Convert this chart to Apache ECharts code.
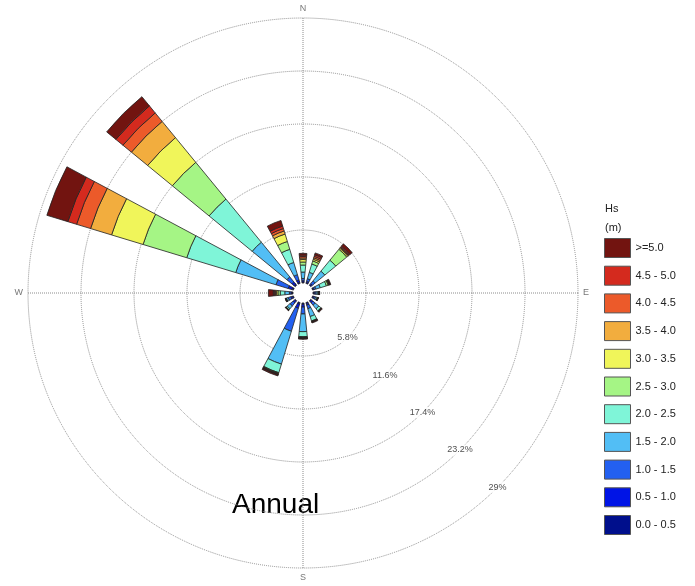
<!DOCTYPE html>
<html>
<head>
<meta charset="utf-8">
<script src="https://cdn.jsdelivr.net/npm/echarts@6/dist/echarts.min.js"></script>
<style>
  html, body { margin: 0; padding: 0; background: #fff; }
  #chart { width: 695px; height: 586px; }
</style>
</head>
<body>
<div id="chart"></div>
<script>
// directions, clockwise from north
const directions = ['N', 'NNE', 'NE', 'ENE', 'E', 'ESE', 'SE', 'SSE', 'S', 'SSW', 'SW', 'WSW', 'W', 'WNW', 'NW', 'NNW'];

// percentage of time per Hs bin (m)
const hs00_05 = [0.10, 0.10, 0.10, 0.08, 0.08, 0.08, 0.10, 0.10, 0.15, 0.20, 0.10, 0.10, 0.10, 0.20, 0.20, 0.15];
const hs05_10 = [0.15, 0.15, 0.15, 0.10, 0.12, 0.12, 0.20, 0.20, 0.30, 0.45, 0.20, 0.20, 0.12, 0.40, 0.30, 0.25];
const hs10_15 = [0.25, 0.30, 0.40, 0.20, 0.15, 0.15, 0.35, 0.40, 0.75, 2.63, 0.45, 0.30, 0.18, 1.40, 0.70, 0.60];
const hs15_20 = [0.70, 0.72, 1.35, 0.50, 0.18, 0.15, 0.50, 0.90, 1.94, 3.76, 0.40, 0.20, 0.50, 4.60, 4.90, 1.40];
const hs20_25 = [0.77, 0.95, 1.55, 0.70, 0.10, 0.08, 0.30, 0.50, 0.55, 0.98, 0.15, 0.05, 0.50, 5.60, 6.10, 1.50];
const hs25_30 = [0.33, 0.35, 1.55, 0.20, 0.03, 0.02, 0.04, 0.05, 0.06, 0.06, 0.02, 0.02, 0.25, 5.00, 5.20, 0.90];
const hs30_35 = [0.27, 0.19, 0.15, 0.08, 0.01, 0.01, 0.02, 0.03, 0.05, 0.06, 0.01, 0.01, 0.15, 3.60, 3.50, 0.85];
const hs35_40 = [0.17, 0.17, 0.10, 0.04, 0.01, 0.01, 0.01, 0.02, 0.03, 0.04, 0.01, 0.01, 0.12, 2.40, 2.30, 0.35];
const hs40_45 = [0.16, 0.17, 0.10, 0.04, 0.01, 0.01, 0.01, 0.02, 0.03, 0.04, 0.01, 0.01, 0.12, 1.60, 1.20, 0.28];
const hs45_50 = [0.16, 0.18, 0.10, 0.04, 0.01, 0.01, 0.01, 0.02, 0.03, 0.04, 0.01, 0.01, 0.12, 1.00, 1.00, 0.28];
const hs50_up = [0.19, 0.21, 0.32, 0.10, 0.04, 0.04, 0.10, 0.09, 0.08, 0.13, 0.06, 0.04, 0.54, 2.40, 1.30, 0.64];

const binNames = ['0.0 - 0.5', '0.5 - 1.0', '1.0 - 1.5', '1.5 - 2.0', '2.0 - 2.5', '2.5 - 3.0',
  '3.0 - 3.5', '3.5 - 4.0', '4.0 - 4.5', '4.5 - 5.0', '>=5.0'];
const binValues = [hs00_05, hs05_10, hs10_15, hs15_20, hs20_25, hs25_30, hs30_35, hs35_40, hs40_45, hs45_50, hs50_up];
const binColors = ['#000f8c', '#0014e6', '#2360f0', '#52bef5', '#7ff5d8', '#a5f585',
  '#f0f55a', '#f2ad3e', '#ec5a2a', '#d42a1e', '#721410'];

// ring labels
const ringTicks = [5.8, 11.6, 17.4, 23.2, 29];
const compass = { 0: 'N', 90: 'E', 180: 'S', 270: 'W' };

const chart = echarts.init(document.getElementById('chart'));

const dotted = { color: '#8c8c8c', type: 'dotted', width: 1 };

const barSeries = binNames.map((name, i) => ({
  name: name,
  type: 'bar',
  coordinateSystem: 'polar',
  polarIndex: 1,
  stack: 'hs',
  barWidth: '50%',
  data: binValues[i],
  itemStyle: {
    color: binColors[i],
    borderColor: '#222',
    borderWidth: 0.8,
  },
  emphasis: { disabled: true },
  z: 3,
}));

const option = {
  animation: false,
  textStyle: { fontFamily: 'Liberation Sans, Arial, sans-serif' },
  polar: [
    { center: [303, 293], radius: [10, 275] },
    { center: [303, 293], radius: [10, 275] },
  ],
  angleAxis: [
    {
      polarIndex: 0,
      type: 'value',
      min: 0,
      max: 360,
      interval: 90,
      startAngle: 90,
      clockwise: true,
      axisLine: { show: false },
      axisTick: { show: false },
      axisLabel: {
        margin: 5,
        fontSize: 9,
        color: '#777',
        formatter: (v) => compass[v] || '',
      },
      splitLine: { show: true, lineStyle: dotted },
    },
    {
      polarIndex: 1,
      type: 'category',
      data: directions,
      startAngle: 90 + 360 / 32,
      clockwise: true,
      axisLine: { show: false },
      axisTick: { show: false },
      axisLabel: { show: false },
      splitLine: { show: false },
    },
  ],
  radiusAxis: [
    {
      polarIndex: 0,
      type: 'value',
      min: 0,
      max: 29,
      interval: 5.8,
      axisLine: { show: false },
      axisTick: { show: false },
      axisLabel: { show: false },
      splitLine: {
        show: true,
        lineStyle: {
          color: ['rgba(0,0,0,0)', '#8c8c8c', '#8c8c8c', '#8c8c8c', '#8c8c8c', '#8c8c8c'],
          type: 'dotted',
          width: 1,
        },
      },
    },
    {
      polarIndex: 1,
      type: 'value',
      min: 0,
      max: 29,
      axisLine: { show: false },
      axisTick: { show: false },
      axisLabel: { show: false },
      splitLine: { show: false },
    },
  ],
  legend: {
    orient: 'vertical',
    left: 604,
    top: 238,
    padding: 0,
    itemWidth: 26,
    itemHeight: 19,
    itemGap: 7.7,
    selectedMode: false,
    icon: 'rect',
    data: binNames.slice().reverse(),
    itemStyle: { borderColor: '#555', borderWidth: 1 },
    textStyle: { fontSize: 11, color: '#222' },
  },
  graphic: [
    { type: 'text', left: 605, top: 203, style: { text: 'Hs', fontSize: 11, fill: '#222' } },
    { type: 'text', left: 605, top: 222, style: { text: '(m)', fontSize: 11, fill: '#222' } },
    { type: 'text', left: 232, top: 491, style: { text: 'Annual', fontSize: 28, fill: '#000' } },
  ],
  series: [
    {
      type: 'scatter',
      coordinateSystem: 'polar',
      polarIndex: 0,
      symbolSize: 0,
      silent: true,
      data: ringTicks.map((t) => [t, 135]),
      label: {
        show: true,
        position: 'inside',
        fontSize: 9,
        color: '#222',
        backgroundColor: '#fff',
        padding: [1, 1],
        formatter: (p) => p.value[0] + '%',
      },
      z: 4,
    },
    ...barSeries,
  ],
};

chart.setOption(option);
</script>
</body>
</html>
